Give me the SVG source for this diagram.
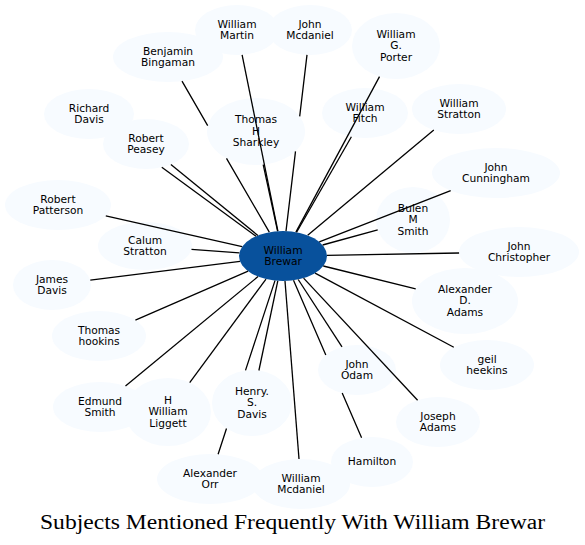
<svg xmlns="http://www.w3.org/2000/svg" width="585" height="545" viewBox="0 0 585 545">
<style>
.n ellipse{fill:#f7fbff;stroke:none}
.n text{font-family:"DejaVu Sans",sans-serif;font-size:10.67px;fill:#000;text-anchor:middle}
#n_brewar ellipse{fill:#08519c}
.e path{fill:none;stroke:#000;stroke-width:1.3}
.title{font-family:"Liberation Serif","Times New Roman",serif;font-size:20.5px;fill:#000}
</style>
<rect width="585" height="545" fill="#fff"/>
<g id="nodes">
<g id="n_brewar" class="n"><ellipse cx="283" cy="256" rx="44" ry="25"/><text x="283" y="253.5">William</text><text x="283" y="265">Brewar</text></g>
<g id="n_martin" class="n"><ellipse cx="237" cy="30" rx="42" ry="25"/><text x="237" y="27.5">William</text><text x="237" y="39">Martin</text></g>
<g id="n_jmcdaniel" class="n"><ellipse cx="310" cy="30" rx="42" ry="25"/><text x="310" y="27.5">John</text><text x="310" y="39">Mcdaniel</text></g>
<g id="n_porter" class="n"><ellipse cx="396" cy="46" rx="44" ry="33"/><text x="396" y="37.8">William</text><text x="396" y="49.3">G.</text><text x="396" y="60.8">Porter</text></g>
<g id="n_bingaman" class="n"><ellipse cx="168" cy="57" rx="55" ry="25"/><text x="168" y="54.5">Benjamin</text><text x="168" y="66">Bingaman</text></g>
<g id="n_sharkley" class="n"><ellipse cx="256" cy="131.5" rx="49" ry="33.5"/><text x="256" y="123.3">Thomas</text><text x="256" y="134.8">H</text><text x="256" y="146.3">Sharkley</text></g>
<g id="n_fitch" class="n"><ellipse cx="365" cy="113" rx="43" ry="25"/><text x="365" y="110.5">William</text><text x="365" y="122">Fitch</text></g>
<g id="n_wstratton" class="n"><ellipse cx="459" cy="109" rx="47" ry="25"/><text x="459" y="106.5">William</text><text x="459" y="118">Stratton</text></g>
<g id="n_rdavis" class="n"><ellipse cx="89" cy="114" rx="45" ry="25"/><text x="89" y="111.5">Richard</text><text x="89" y="123">Davis</text></g>
<g id="n_peasey" class="n"><ellipse cx="146" cy="144" rx="43" ry="25"/><text x="146" y="141.5">Robert</text><text x="146" y="153">Peasey</text></g>
<g id="n_cunningham" class="n"><ellipse cx="496" cy="173" rx="64" ry="25"/><text x="496" y="170.5">John</text><text x="496" y="182">Cunningham</text></g>
<g id="n_patterson" class="n"><ellipse cx="58" cy="205" rx="53" ry="25"/><text x="58" y="202.5">Robert</text><text x="58" y="214">Patterson</text></g>
<g id="n_bulen" class="n"><ellipse cx="413" cy="220" rx="37" ry="33"/><text x="413" y="211.8">Bulen</text><text x="413" y="223.3">M</text><text x="413" y="234.8">Smith</text></g>
<g id="n_calum" class="n"><ellipse cx="145" cy="246" rx="47" ry="24"/><text x="145" y="243.5">Calum</text><text x="145" y="255">Stratton</text></g>
<g id="n_christopher" class="n"><ellipse cx="519" cy="252" rx="60" ry="25"/><text x="519" y="249.5">John</text><text x="519" y="261">Christopher</text></g>
<g id="n_jdavis" class="n"><ellipse cx="52" cy="285" rx="39" ry="25"/><text x="52" y="282.5">James</text><text x="52" y="294">Davis</text></g>
<g id="n_adadams" class="n"><ellipse cx="465" cy="301" rx="53" ry="33"/><text x="465" y="292.8">Alexander</text><text x="465" y="304.3">D.</text><text x="465" y="315.8">Adams</text></g>
<g id="n_hookins" class="n"><ellipse cx="99" cy="336" rx="47" ry="25"/><text x="99" y="333.5">Thomas</text><text x="99" y="345">hookins</text></g>
<g id="n_heekins" class="n"><ellipse cx="487" cy="365" rx="47" ry="25"/><text x="487" y="362.5">geil</text><text x="487" y="374">heekins</text></g>
<g id="n_edmund" class="n"><ellipse cx="100" cy="407" rx="47" ry="25"/><text x="100" y="404.5">Edmund</text><text x="100" y="416">Smith</text></g>
<g id="n_liggett" class="n"><ellipse cx="168" cy="412" rx="43" ry="34"/><text x="168" y="403.8">H</text><text x="168" y="415.3">William</text><text x="168" y="426.8">Liggett</text></g>
<g id="n_hdavis" class="n"><ellipse cx="252" cy="403" rx="40" ry="33"/><text x="252" y="394.8">Henry.</text><text x="252" y="406.3">S.</text><text x="252" y="417.8">Davis</text></g>
<g id="n_odam" class="n"><ellipse cx="357" cy="370" rx="39" ry="25"/><text x="357" y="367.5">John</text><text x="357" y="379">Odam</text></g>
<g id="n_jadams" class="n"><ellipse cx="438" cy="422" rx="42" ry="25"/><text x="438" y="419.5">Joseph</text><text x="438" y="431">Adams</text></g>
<g id="n_orr" class="n"><ellipse cx="210" cy="479" rx="53" ry="25"/><text x="210" y="476.5">Alexander</text><text x="210" y="488">Orr</text></g>
<g id="n_hamilton" class="n"><ellipse cx="372" cy="462" rx="41" ry="25"/><text x="372" y="465.3">Hamilton</text></g>
<g id="n_wmcdaniel" class="n"><ellipse cx="301" cy="484" rx="49" ry="25"/><text x="301" y="481.5">William</text><text x="301" y="493">Mcdaniel</text></g>
</g>
<g id="connectors" class="e">
<path d="M277.9,231.2L242.1,54.8"/>
<path d="M286.0,231.1L295.5,151.3M299.7,116.3L307.0,54.9"/>
<path d="M295.9,232.1L379.5,76.6"/>
<path d="M269.3,232.2L226.5,158.3M207.7,125.7L182.0,81.2"/>
<path d="M277.6,231.2L263.2,164.6"/>
<path d="M296.6,232.2L351.4,136.7"/>
<path d="M307.7,235.3L433.8,130.1"/>
<path d="M256.0,236.3L161.8,167.3"/>
<path d="M257.9,235.5L170.9,164.4"/>
<path d="M319.3,241.9L450.7,190.7"/>
<path d="M242.1,246.7L105.8,215.8"/>
<path d="M322.6,245.0L377.7,229.8"/>
<path d="M239.4,252.8L191.5,249.4"/>
<path d="M327.0,255.3L459.1,253.0"/>
<path d="M240.0,261.4L90.3,280.2"/>
<path d="M323.3,266.0L415.7,288.8"/>
<path d="M248.1,271.2L135.4,320.2"/>
<path d="M315.1,273.1L453.8,347.3"/>
<path d="M298.2,279.5L342.0,346.9"/>
<path d="M293.5,280.3L325.8,355.0M342.2,393.1L361.6,437.8"/>
<path d="M277.8,280.8L258.9,370.5"/>
<path d="M275.0,280.6L245.5,370.4M226.5,428.5L218.1,454.3"/>
<path d="M258.0,276.6L125.5,386.0"/>
<path d="M266.0,279.1L189.7,382.6"/>
<path d="M303.6,278.1L417.6,400.2"/>
<path d="M285.0,281.0L299.0,459.0"/>
</g>
<text class="title" x="40" y="528.5" textLength="505" lengthAdjust="spacingAndGlyphs">Subjects Mentioned Frequently With William Brewar</text>
</svg>
